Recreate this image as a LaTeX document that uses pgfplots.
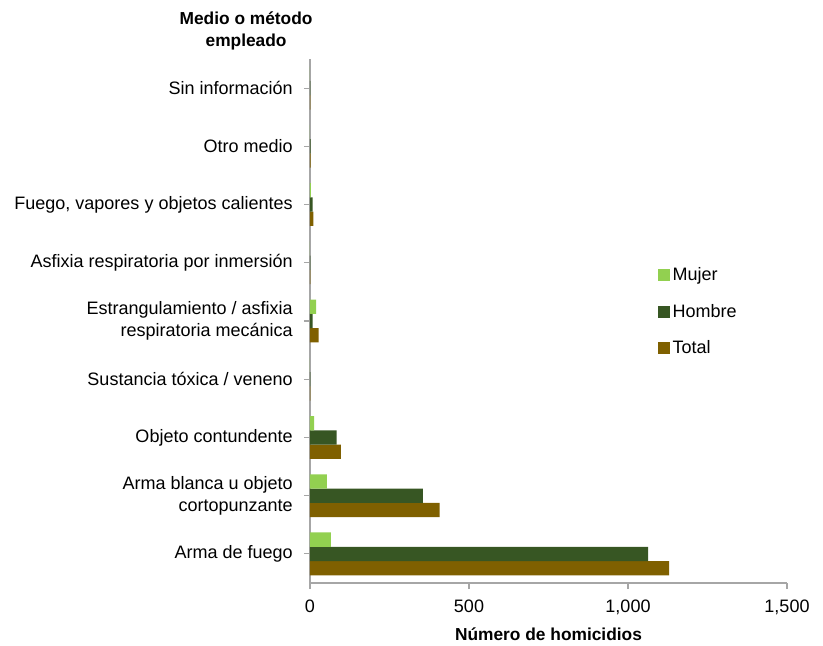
\documentclass[border=0pt]{standalone}
\usepackage{pgfplots}
\pgfplotsset{compat=1.18}
\usepackage{fontspec}
\setmainfont{Liberation Sans}
\definecolor{cMujer}{HTML}{92D050}
\definecolor{cHombre}{HTML}{375623}
\definecolor{cTotal}{HTML}{7F6000}
\definecolor{axgray}{HTML}{A6A6A6}
\begin{document}
\begin{tikzpicture}
\begin{axis}[
  scale only axis,
  width=357.75pt, height=393pt,
  xbar=0pt,
  bar width=10.7pt,
  xmin=0, xmax=1500,
  ymin=-0.5, ymax=8.5,
  xtick={0,500,1000,1500},
  ytick={0,1,2,3,4,5,6,7,8},
  yticklabels={Arma de fuego,
    {Arma blanca u objeto\\cortopunzante},
    Objeto contundente,
    Sustancia tóxica / veneno,
    {Estrangulamiento / asfixia\\respiratoria mecánica},
    Asfixia respiratoria por inmersión,
    {Fuego, vapores y objetos calientes},
    Otro medio,
    Sin información},
  yticklabel style={align=right, font=\fontsize{13.5}{16.5}\selectfont, xshift=-5pt},
  xticklabel style={font=\fontsize{13.5}{16}\selectfont, yshift=-5pt},
  /pgf/number format/.cd, 1000 sep={,}, assume math mode=true,
  /pgfplots/.cd,
  axis x line*=bottom,
  axis y line*=left,
  axis line style={axgray, line width=0.8pt},
  tick style={axgray, line width=0.8pt},
  tick align=outside,
  major tick length=4.5pt,
  clip=false,
  xlabel={\bfseries Número de homicidios},
  every axis x label/.style={at={(rel axis cs:0.5,-0.0973)}, anchor=center, font=\fontsize{13}{16}\selectfont},
  legend style={draw=none, at={(rel axis cs:0.729,0.607)}, anchor=north west,
    font=\fontsize{13.5}{16}\selectfont, row sep=12pt, inner sep=0pt},
  legend cell align=left,
  reverse legend,
  legend image code/.code={\fill[#1, draw=none] (0pt,-4.5pt) rectangle (9pt,4.5pt);},
]
\addplot[fill=cTotal, draw=none] coordinates {(1129,0) (408,1) (97,2) (1,3) (27,4) (1,5) (11,6) (2,7) (1,8)};
\addplot[fill=cHombre, draw=none] coordinates {(1063,0) (355,1) (84,2) (1,3) (8,4) (1,5) (8,6) (2,7) (1,8)};
\addplot[fill=cMujer, draw=none] coordinates {(66,0) (53,1) (13,2) (0,3) (19,4) (0,5) (3,6) (0,7) (0,8)};
\legend{Total,Hombre,Mujer}
\node[align=center, font=\bfseries\fontsize{13}{16.5}\selectfont] at (rel axis cs:-0.134,1.053) {Medio o método\\empleado};
\end{axis}
\path (current axis.south west) ++(-232.5pt,-46.5pt) rectangle ++(617.25pt,483.75pt);
\end{tikzpicture}
\end{document}
